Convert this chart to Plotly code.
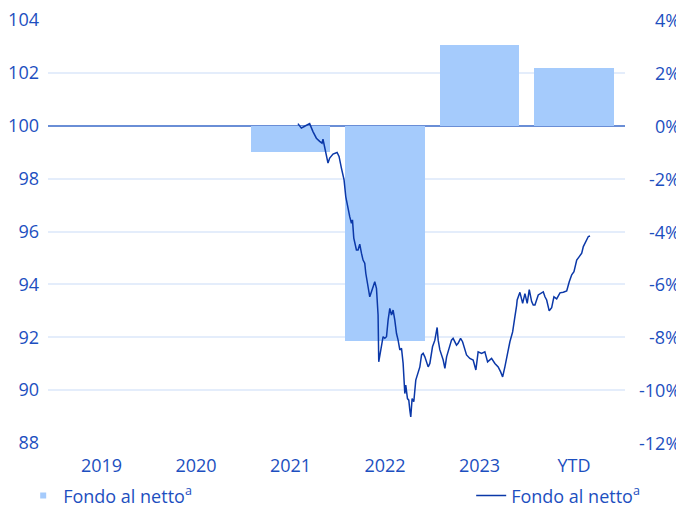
import plotly.graph_objects as go

# ---- data ----
categories = ["2019", "2020", "2021", "2022", "2023", "YTD"]
cat_pos = [2019, 2020, 2021, 2022, 2023, 2024]
annual_returns = [None, None, -1.0, -8.15, 3.07, 2.2]  # %

line_time = [
    2021.079, 2021.115, 2021.150, 2021.203, 2021.238, 2021.274, 2021.309, 2021.334, 2021.344,
    2021.380, 2021.397, 2021.415, 2021.450, 2021.493, 2021.514, 2021.539, 2021.567, 2021.585,
    2021.609, 2021.627, 2021.645, 2021.656, 2021.670, 2021.698, 2021.715, 2021.733, 2021.751,
    2021.768, 2021.786, 2021.797, 2021.821, 2021.839, 2021.857, 2021.892, 2021.910, 2021.927,
    2021.934, 2021.963, 2021.980, 2021.998, 2022.016, 2022.033, 2022.051, 2022.069, 2022.086,
    2022.104, 2022.122, 2022.139, 2022.157, 2022.175, 2022.192, 2022.210, 2022.220, 2022.238,
    2022.252, 2022.263, 2022.273, 2022.287, 2022.305, 2022.326, 2022.351, 2022.369, 2022.387,
    2022.404, 2022.422, 2022.440, 2022.457, 2022.475, 2022.503, 2022.528, 2022.552, 2022.563,
    2022.581, 2022.616, 2022.634, 2022.652, 2022.686, 2022.704, 2022.721, 2022.757, 2022.774,
    2022.800, 2022.821, 2022.863, 2022.898, 2022.933, 2022.962, 2022.986, 2023.022, 2023.057,
    2023.086, 2023.128, 2023.163, 2023.198, 2023.224, 2023.245, 2023.269, 2023.298, 2023.322,
    2023.351, 2023.364, 2023.375, 2023.393, 2023.399, 2023.428, 2023.457, 2023.481, 2023.505,
    2023.527, 2023.552, 2023.569, 2023.587, 2023.622, 2023.658, 2023.675, 2023.693, 2023.711,
    2023.738, 2023.764, 2023.781, 2023.788, 2023.817, 2023.852, 2023.887, 2023.923, 2023.950,
    2023.976, 2024.000, 2024.029, 2024.056, 2024.082, 2024.099, 2024.127, 2024.152, 2024.170,
]
line_values = [
    100.08, 99.91, 99.98, 100.08, 99.78, 99.53, 99.41, 99.34, 99.49,
    98.96, 98.59, 98.78, 98.93, 98.99, 98.84, 98.40, 97.95, 97.32,
    96.82, 96.56, 96.31, 96.44, 95.75, 95.30, 95.30, 95.52, 95.18,
    94.92, 94.80, 94.42, 93.91, 93.53, 93.72, 94.10, 93.85, 92.84,
    91.07, 91.64, 92.02, 91.96, 92.02, 92.65, 93.09, 92.84, 93.03,
    92.65, 92.14, 91.89, 91.52, 91.58, 91.01, 89.87, 90.19, 89.68,
    89.62, 89.24, 88.99, 89.68, 89.56, 90.38, 90.63, 90.88, 91.33,
    91.39, 91.26, 91.01, 90.88, 91.01, 91.64, 91.89, 92.37, 91.89,
    91.52, 91.14, 90.82, 91.26, 91.64, 91.89, 91.96, 91.70, 91.77,
    91.96, 91.83, 91.33, 91.20, 91.14, 90.76, 91.45, 91.39, 91.45,
    91.07, 91.20, 91.01, 90.88, 90.69, 90.50, 90.88, 91.45, 91.83,
    92.20, 92.59, 92.78, 93.20, 93.41, 93.70, 93.28, 93.65, 93.28,
    93.80, 93.35, 93.22, 93.22, 93.60, 93.66, 93.72, 93.53, 93.41,
    93.00, 93.12, 93.41, 93.53, 93.45, 93.68, 93.70, 93.75, 94.10,
    94.36, 94.48, 94.92, 95.05, 95.18, 95.43, 95.62, 95.81, 95.83,
]

left_ticks = [88, 90, 92, 94, 96, 98, 100, 102, 104]
right_ticks = [-12, -10, -8, -6, -4, -2, 0, 2, 4]
legend_label = "Fondo al netto<sup>a</sup>"

# ---- style ----
TEXT = "#1d4fc0"
BAR = "#a5cbfc"
LINE = "#0b38a8"
GRID = "#e4edfb"
BASE = "#6a8ed6"
FONT = "Open Sans"
TICK_SIZE = 18
LEG_SIZE = 18

fig = go.Figure()

# bars on primary (percent) axis -> drawn below
fig.add_trace(go.Bar(
    x=cat_pos, y=annual_returns, yaxis="y", marker=dict(color=BAR, line=dict(width=0)),
    width=0.84, showlegend=False, hoverinfo="skip",
))
# legend proxy for bars (small square)
fig.add_trace(go.Scatter(
    x=[None], y=[None], mode="markers", yaxis="y",
    marker=dict(symbol="square", size=6, color=BAR),
    name=legend_label, legend="legend",
))
# price line on overlaying axis -> drawn on top
fig.add_trace(go.Scatter(
    x=line_time, y=line_values, mode="lines", yaxis="y2",
    line=dict(color=LINE, width=1.5), name=legend_label, legend="legend2",
))

for v in right_ticks:
    fig.add_annotation(
        x=1.099, xref="paper", y=v, yref="y", text=f"{v}%", showarrow=False,
        xanchor="right", yanchor="middle", font=dict(family=FONT, size=TICK_SIZE, color=TEXT),
    )

# page body has an 8px margin: figure is 676x501 so that it fills the 684x509 window
fig.update_layout(
    width=676, height=501,
    margin=dict(l=40, r=59, t=12, b=66, autoexpand=False),
    paper_bgcolor="white", plot_bgcolor="white",
    font=dict(family=FONT, size=TICK_SIZE, color=TEXT),
    bargap=0,
    xaxis=dict(
        range=[2018.434, 2024.54], tickvals=cat_pos, ticktext=categories,
        showgrid=False, zeroline=False, showline=False, ticks="",
        ticklabelstandoff=10,
    ),
    yaxis=dict(
        range=[-12, 4], side="right", tickvals=right_ticks, showgrid=True,
        gridcolor=GRID, gridwidth=1.5, zeroline=True, zerolinecolor=BASE,
        zerolinewidth=2, showline=False, ticks="", showticklabels=False,
    ),
    yaxis2=dict(
        range=[88, 104], overlaying="y", side="left", tickvals=left_ticks,
        showgrid=False, zeroline=False, showline=False, ticks="",
        ticklabelstandoff=8, ticklabeloverflow="allow",
    ),
    legend=dict(
        orientation="h", x=-0.043, xanchor="left", y=-0.125, yanchor="middle",
        font=dict(family=FONT, size=LEG_SIZE, color=TEXT), itemwidth=30,
        bgcolor="rgba(0,0,0,0)",
    ),
    legend2=dict(
        orientation="h", x=1.035, xanchor="right", y=-0.125, yanchor="middle",
        font=dict(family=FONT, size=LEG_SIZE, color=TEXT), itemwidth=30,
        bgcolor="rgba(0,0,0,0)",
    ),
)

fig.write_html("out.html")
